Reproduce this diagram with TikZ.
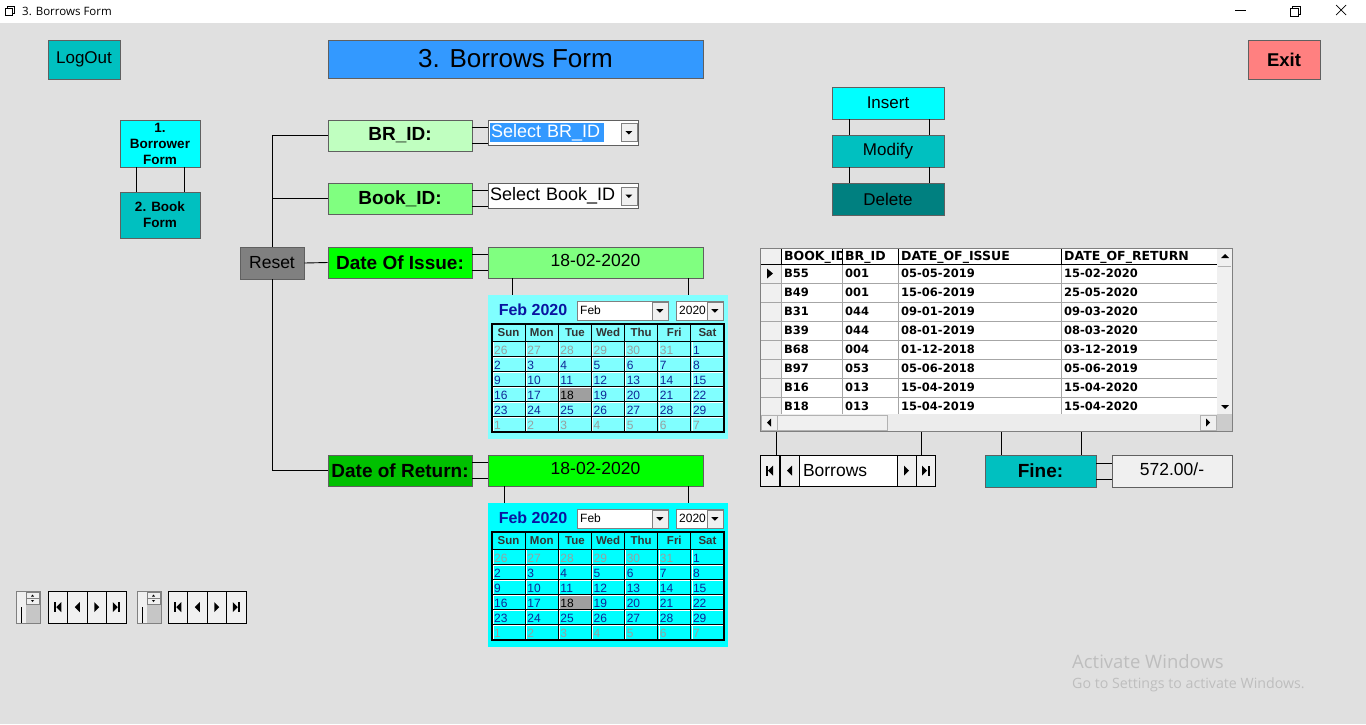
\documentclass[tikz,border=0pt]{standalone}
\usepackage{fontspec}
\setmainfont{Liberation Sans}
\newfontfamily\gridfont{DejaVu Sans}
\newfontfamily\winfont{Open Sans}
\definecolor{formbg}{RGB}{224,224,224}
\definecolor{teal1}{RGB}{0,192,192}
\definecolor{teal2}{RGB}{0,128,128}
\definecolor{aqua}{RGB}{0,255,255}
\definecolor{aqualt}{RGB}{128,255,255}
\definecolor{titleblue}{RGB}{51,153,255}
\definecolor{exitred}{RGB}{255,128,128}
\definecolor{grn1}{RGB}{192,255,192}
\definecolor{grn2}{RGB}{128,255,128}
\definecolor{grn3}{RGB}{0,255,0}
\definecolor{grn4}{RGB}{0,192,0}
\definecolor{resetgray}{RGB}{128,128,128}
\definecolor{ctlface}{RGB}{240,240,240}
\definecolor{daynavy}{RGB}{16,40,150}
\definecolor{daygray}{RGB}{150,160,160}
\definecolor{calnavy}{RGB}{10,20,160}
\definecolor{wmark}{RGB}{190,190,190}

\begin{document}
\begin{tikzpicture}
      [x=1pt,y=-1pt
      ,box/.style={draw=gray!75!black,line width=.8pt,inner sep=0pt,font=\fontsize{17}{17}\selectfont}
      ,lbl/.style={box,minimum width=144pt,minimum height=31pt,font=\fontsize{19}{19}\selectfont\bfseries}
      ,val/.style={box,minimum width=215pt,minimum height=31pt,font=\fontsize{17.5}{17.5}\selectfont}
      ,combo/.style={box,fill=white,minimum width=150pt,minimum height=25pt,text width=146pt,inner xsep=2pt,align=left,font=\fontsize{18}{18}\selectfont}
      ,cmd/.style={box,minimum width=112pt,minimum height=32pt}
      ,wire/.style={black,line width=.9pt}
      ,ctl/.style={draw=black,line width=.9pt,fill=ctlface}
      ,cell/.style={font=\gridfont\fontsize{11.5}{11.5}\selectfont\bfseries,anchor=west,inner sep=0pt}
      ,hcell/.style={cell,font=\gridfont\fontsize{12.5}{12.5}\selectfont\bfseries}
      ,calhd/.style={font=\fontsize{11.5}{11.5}\selectfont\bfseries,text=black!80,inner sep=0pt}
      ,calday/.style={font=\fontsize{12}{12}\selectfont,anchor=west,inner sep=0pt}
      ,calbox/.style={draw=gray,fill=white,minimum height=19pt,inner xsep=3pt,inner ysep=0pt,anchor=north west,align=left,font=\fontsize{12}{12}\selectfont}
      ,navprev/.pic={\fill (-2.5,0) -- (2.5,-5) -- (2.5,5) -- cycle;}
      ,navnext/.pic={\fill (2.5,0) -- (-2.5,-5) -- (-2.5,5) -- cycle;}
      ,navfirst/.pic={\fill (-4,-5) rectangle (-2,5); \fill (-1.5,0) -- (3.5,-5) -- (3.5,5) -- cycle;}
      ,navlast/.pic={\fill (4,-5) rectangle (2,5); \fill (1.5,0) -- (-3.5,-5) -- (-3.5,5) -- cycle;}
      ,ddbtn/.pic={\draw[draw=gray,fill=ctlface] (-8,-9) rectangle (8,9); \fill (-3.5,-1.5) -- (3.5,-1.5) -- (0,2) -- cycle;}
      ]
        \useasboundingbox (0,0) rectangle (1366,724);
        \fill[formbg] (0,0) rectangle (1366,724);
        \fill[white] (0,0) rectangle (1366,23);

        % title bar
        \draw[line width=.8pt] (5,8) rectangle (12,15);
        \draw[line width=.8pt] (7,8) -- (7,6) -- (14,6) -- (14,13) -- (12,13);
        \node[anchor=west,inner sep=0pt,font=\winfont\fontsize{11.5}{11.5}\selectfont] (wtitle) at (22,11) {3. Borrows Form};
        \draw[line width=.7pt] (1235,10) -- (1246,10);
        \draw[line width=.7pt] (1290,8) rectangle (1298,16);
        \draw[line width=.7pt] (1292,8) -- (1292,6) -- (1300,6) -- (1300,14) -- (1298,14);
        \draw[line width=.7pt] (1336,5) -- (1346,15) (1346,5) -- (1336,15);

        % top row
        \node[box,fill=teal1,minimum width=72pt,minimum height=39pt] (logout) at (84,59.5) {LogOut};
        \node[box,fill=titleblue,minimum width=375pt,minimum height=38pt,font=\fontsize{26}{26}\selectfont] (title) at (515.5,59) {3. Borrows Form};
        \node[box,fill=exitred,minimum width=72pt,minimum height=39pt,font=\fontsize{18.5}{18.5}\selectfont\bfseries] (exit) at (1284,59.5) {Exit};

        \node[box,fill=aqua,minimum width=80pt,minimum height=47pt,align=center,font=\fontsize{13.5}{16}\selectfont\bfseries] (borrower) at (160,143.5) {1.\\Borrower\\Form};
        \node[box,fill=teal1,minimum width=80pt,minimum height=46pt,align=center,font=\fontsize{13.5}{16}\selectfont\bfseries] (bookform) at (160,215) {2. Book\\Form};
        \foreach \d in {-24,24}
            \draw[wire] ([xshift=\d pt]borrower.south) -- ([xshift=\d pt]bookform.north);

        % fields
        \node[lbl,fill=grn1] (brlbl) at (400,135.5) {BR\_ID:};
        \node[lbl,fill=grn2] (booklbl) at (400,198.5) {Book\_ID:};
        \node[lbl,fill=grn3] (issuelbl) at (400,262.5) {Date Of Issue:};
        \node[lbl,fill=grn4] (returnlbl) at (400,470.5) {Date of Return:};
        \node[box,fill=resetgray,minimum width=64pt,minimum height=32pt,font=\fontsize{17.5}{17.5}\selectfont] (reset) at (272,263) {Reset};

        \node[combo] (brcombo) at (563,132.5) {{\setlength{\fboxsep}{1pt}\colorbox{titleblue}{\textcolor{white}{Select BR\_ID}\hspace{3pt}}}};
        \node[combo] (bookcombo) at (563,196) {Select Book\_ID};
        \pic at ([xshift=-9.5pt]brcombo.east) {ddbtn};
        \pic at ([xshift=-9.5pt]bookcombo.east) {ddbtn};
        \node[val,fill=grn2] (issueval) at (595.5,262.5) {\raisebox{3.5pt}{18-02-2020}};
        \node[val,fill=grn3] (returnval) at (595.5,470.5) {\raisebox{3.5pt}{18-02-2020}};

        \draw[wire] (brlbl.west) -| (reset.north);
        \draw[wire] (returnlbl.west) -| (reset.south);
        \draw[wire] (booklbl.west) -- (booklbl.west -| reset.north);
        \draw[wire] (reset.east) -- (issuelbl.west);
        \foreach \d in {-8,8}{
            \draw[wire] ([yshift=\d pt]brlbl.east) -- ([yshift=\d pt]brlbl.east -| brcombo.west);
            \draw[wire] ([yshift=\d pt]booklbl.east) -- ([yshift=\d pt]booklbl.east -| bookcombo.west);
            \draw[wire] ([yshift=\d pt]issuelbl.east) -- ([yshift=\d pt]issuelbl.east -| issueval.west);
            \draw[wire] ([yshift=\d pt]returnlbl.east) -- ([yshift=\d pt]returnlbl.east -| returnval.west);
        }

        % calendars
        \foreach \i/\cy/\cf in {1/295/aqualt,2/503/aqua}{
            \node[fill=\cf,minimum width=240pt,minimum height=144pt,inner sep=0pt,anchor=north west] (cal\i) at (488,\cy) {};
            \node[font=\fontsize{16}{16}\selectfont\bfseries,text=calnavy,inner sep=0pt] (calhead\i) at (533,\cy+14.5) {Feb 2020};
            \node[calbox,minimum width=91pt,text width=85pt] (calmonth\i) at (577,\cy+6) {Feb};
            \node[calbox,minimum width=47pt,text width=41pt] (calyear\i) at (676,\cy+6) {2020};
            \pic at ([xshift=-8.5pt]calmonth\i.east) {ddbtn};
            \pic at ([xshift=-8.5pt]calyear\i.east) {ddbtn};
            \fill[gray!75] (492+33.143*2,\cy+91) rectangle (492+33.143*3,\cy+106);
            \draw[white,line width=.8pt] \foreach \c in {0,...,6}{(493.3+33.143*\c,\cy+47) -- (493.3+33.143*\c,\cy+136)}
                \foreach \r in {1,...,5}{(492,\cy+47.3+15*\r) -- (724,\cy+47.3+15*\r)};
            \draw[black,line width=.8pt] \foreach \c in {1,...,6}{(492+33.143*\c,\cy+29) -- (492+33.143*\c,\cy+137)}
                \foreach \r in {0,...,5}{(492,\cy+46+15*\r) -- (724,\cy+46+15*\r)};
            \draw[black,line width=1.5pt] (492,\cy+29) rectangle (724,\cy+137);
            \foreach \c/\dn in {0/Sun,1/Mon,2/Tue,3/Wed,4/Thu,5/Fri,6/Sat}
                \node[calhd] (calday\i\c) at (508.6+33.143*\c,\cy+37.5) {\dn};
            \foreach \r in {0,...,5}
                \foreach \c in {0,...,6}{
                    \pgfmathtruncatemacro\n{7*\r+\c-5}
                    \ifnum\n<1 \pgfmathtruncatemacro\n{\n+31}\def\dcol{daygray}
                    \else\ifnum\n>29 \pgfmathtruncatemacro\n{\n-29}\def\dcol{daygray}
                    \else\def\dcol{daynavy}\fi\fi
                    \ifnum\r=3 \ifnum\c=2 \def\dcol{black}\fi\fi
                    \node[calday,text=\dcol] (d\i-\r-\c) at (494+33.143*\c,\cy+55+15*\r) {\n};
                }
        }
        \foreach \d in {-83.5,92.5}
            \draw[wire] ([xshift=\d pt]issueval.south) -- ([xshift=\d pt]issueval.south |- cal1.north);
        \foreach \d in {-91.5,92.5}
            \draw[wire] ([xshift=\d pt]returnval.south) -- ([xshift=\d pt]returnval.south |- cal2.north);

        % commands
        \node[cmd,fill=aqua] (insert) at (888,103) {Insert};
        \node[cmd,fill=teal1] (modify) at (888,151) {Modify};
        \node[cmd,fill=teal2] (delete) at (888,199) {Delete};
        \foreach \d in {-39,41}{
            \draw[wire] ([xshift=\d pt]insert.south) -- ([xshift=\d pt]modify.north);
            \draw[wire] ([xshift=\d pt]modify.south) -- ([xshift=\d pt]delete.north);
        }

        % grid
        \node[draw=gray,line width=.8pt,fill=white,minimum width=472pt,minimum height=183pt,inner sep=0pt,anchor=north west] (grid) at (760,248) {};
        \fill[ctlface] (761,249) rectangle (781,414);
        \draw[gray!70,line width=.7pt] \foreach \k in {1,...,7}{(760,264+19*\k) -- (1217,264+19*\k)}
            \foreach \x in {781,842,898,1061}{(\x,264) -- (\x,414)};
        \draw[black,line width=.8pt] (760,264) -- (1217,264)
            \foreach \x in {781,842,898,1061}{(\x,248) -- (\x,264)};
        \begin{scope}
            \clip (781,248) rectangle (841,264);
            \node[hcell] (hbook) at (784,257) {BOOK\_ID};
        \end{scope}
        \node[hcell] (hbr) at (845,257) {BR\_ID};
        \node[hcell] (hissue) at (901,257) {DATE\_OF\_ISSUE};
        \node[hcell] (hreturn) at (1064,257) {DATE\_OF\_RETURN};
        \foreach \k/\bk/\br/\di/\dr in {0/B55/001/05-05-2019/15-02-2020,1/B49/001/15-06-2019/25-05-2020,2/B31/044/09-01-2019/09-03-2020,3/B39/044/08-01-2019/08-03-2020,4/B68/004/01-12-2018/03-12-2019,5/B97/053/05-06-2018/05-06-2019,6/B16/013/15-04-2019/15-04-2020,7/B18/013/15-04-2019/15-04-2020}{
            \node[cell] (bk\k) at (784,273.5+19*\k) {\bk};
            \node[cell] (br\k) at (845,273.5+19*\k) {\br};
            \node[cell] (di\k) at (901,273.5+19*\k) {\di};
            \node[cell] (dr\k) at (1064,273.5+19*\k) {\dr};
        }
        \fill (767,268.5) -- (773,273.5) -- (767,278.5) -- cycle;
        \fill[ctlface] (1217,249) rectangle (1232,414);
        \fill (1221,258) -- (1229,258) -- (1225,254) -- cycle;
        \draw[gray!60] (1218,266) -- (1231,266);
        \fill (1221,405) -- (1229,405) -- (1225,409) -- cycle;
        \fill[gray!15] (761,414) rectangle (1217,431);
        \draw[gray!60,fill=ctlface] (761,415) rectangle (777,430) (777,415) rectangle (887,430) (1200,415) rectangle (1216,430);
        \fill (767,422.5) -- (771,418.5) -- (771,426.5) -- cycle;
        \fill (1210,422.5) -- (1206,418.5) -- (1206,426.5) -- cycle;
        \fill[gray!40] (1217,414) rectangle (1232,431);
        \draw[gray,line width=.8pt] (760,248) rectangle (1232,431);

        % data control and fine
        \node[draw=black,line width=.9pt,fill=white,minimum width=175pt,minimum height=31pt,text width=171pt,inner xsep=2pt,inner ysep=0pt,align=left,font=\fontsize{17.5}{17.5}\selectfont] (borrows) at (847.5,470.5) {\hspace*{41pt}Borrows};
        \foreach \x/\p in {760/navfirst,780/navprev,897/navnext,916/navlast}{
            \draw[ctl] (\x,455) rectangle (\x+19,486);
            \pic at (\x+9.5,470.5) {\p};
        }
        \node[box,fill=teal1,minimum width=111pt,minimum height=32pt,font=\fontsize{19}{19}\selectfont\bfseries] (fine) at (1040.5,471) {Fine:};
        \node[box,fill=ctlface,minimum width=120pt,minimum height=32pt,font=\fontsize{17.5}{17.5}\selectfont] (fineval) at (1172,471) {\raisebox{4pt}{572.00/-}};
        \foreach \d in {-71.5,73.5}
            \draw[wire] ([xshift=\d pt]borrows.north |- grid.south) -- ([xshift=\d pt]borrows.north);
        \foreach \d in {-39.5,40.5}
            \draw[wire] ([xshift=\d pt]fine.north |- grid.south) -- ([xshift=\d pt]fine.north);
        \foreach \d in {-8,8}
            \draw[wire] ([yshift=\d pt]fine.east) -- ([yshift=\d pt]fineval.west);

        % bottom left controls
        \foreach \i/\x/\sx in {1/48/16,2/168/137}{
            \node[draw=gray,line width=.9pt,fill=ctlface,minimum width=24pt,minimum height=32pt,inner sep=0pt,anchor=north west] (spin\i) at (\sx,591) {};
            \fill[gray!45] (\sx+10,605) rectangle (\sx+24,623);
            \draw[gray,fill=ctlface] (\sx+10,592) rectangle (\sx+23,598) (\sx+10,598) rectangle (\sx+23,604);
            \fill (\sx+15,596.5) -- (\sx+18,596.5) -- (\sx+16.5,594.5) -- cycle;
            \fill (\sx+15,600) -- (\sx+18,600) -- (\sx+16.5,602) -- cycle;
            \draw[line width=1pt] (\sx+5,607) -- (\sx+5,623);
            \node[draw=black,line width=.9pt,fill=ctlface,minimum width=78pt,minimum height=32pt,inner sep=0pt,anchor=north west] (nav\i) at (\x,591) {};
            \foreach \k/\p in {0/navfirst,1/navprev,2/navnext,3/navlast}{
                \draw[black,line width=.9pt] (\x+19.5*\k,591) rectangle (\x+19.5*\k+19.5,623);
                \pic at (\x+19.5*\k+9.75,607) {\p};
            }
        }

        \node[anchor=west,inner sep=0pt,text=wmark,font=\winfont\fontsize{18.5}{18.5}\selectfont] (act1) at (1072,662) {Activate Windows};
        \node[anchor=west,inner sep=0pt,text=wmark,font=\winfont\fontsize{14.2}{14.2}\selectfont] (act2) at (1072,685) {Go to Settings to activate Windows.};
\end{tikzpicture}
\end{document}
